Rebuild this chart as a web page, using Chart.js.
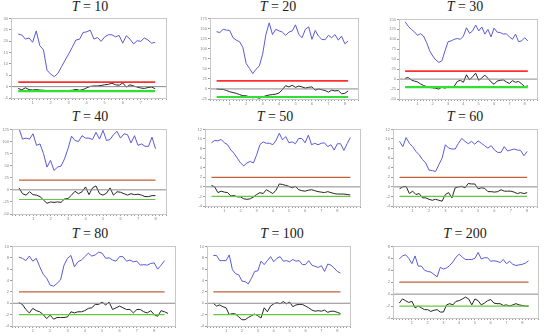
<!DOCTYPE html>
<html lang="en">
<head>
  <meta charset="utf-8">
  <title>T panels</title>
  <script src="https://cdn.jsdelivr.net/npm/chart.js@4.4.1/dist/chart.umd.min.js"></script>
  <style>
    body { margin: 0; background: #fff; }
    #wrap { position: relative; width: 550px; height: 336px; overflow: hidden; }
    .ttl {
      position: absolute; width: 100px; margin-left: -50px; text-align: center;
      font-family: "Liberation Serif", serif; font-size: 14px; color: #222;
      line-height: 14px;
    }
    canvas { position: absolute; }
  </style>
</head>
<body>
<div id="wrap"></div>

<script>
// horizon T for each panel
var Ts = [10, 20, 30, 40, 50, 60, 80, 100, 200];

// upper / lower bands
var upperBand = [2, 20, 20, 20, 2, 2, 2, 2, 2];
var lowerBand = [-2, -20, -20, -20, -2, -2, -2, -2, -2];

// y axis ranges (tick labels)
var yMin  = [-5, -25, -50, -50, -4, -4, -4, -4, -4];
var yMax  = [30, 175, 150, 125, 12, 12, 10, 10, 8];
var yStep = [5, 25, 25, 25, 2, 2, 2, 2, 2];

// blue series
var blue10 = [23.1,22.7,20.9,21.4,19.5,24.5,18.0,16.2,7.2,5.5,4.4,5.8,8.7,11.6,14.4,17.3,20.5,20.8,23.8,24.1,24.8,20.9,21.6,19.9,21.9,22.8,22.8,21.9,22.5,19.1,22.4,20.9,18.8,20.2,19.9,21.4,20.5,19.1,19.5];
var blue20 = [142,140,148,146,145,127,121,117,103,63,51,38,49,57,86,135,164,135,148,144,141,133,141,144,159,135,127,148,154,123,145,131,123,122,133,127,135,121,131,112,119];
var blue30 = [144,133,125,119,110,114,108,92,71,58,48,42,46,71,94,96,100,102,100,108,129,115,121,136,121,131,113,125,106,128,118,117,113,114,106,100,113,94,96,104,96];
var blue40 = [127,105,107,105,116,92,95,75,47,61,40,47,49,64,85,111,102,100,112,107,107,104,119,105,123,102,104,114,121,107,116,114,97,112,92,95,90,90,109,85];
var blue50 = [9.2,9.7,9.6,9.9,9.2,8.8,7.7,7.0,6.0,5.0,4.4,5.0,5.3,5.0,6.7,8.8,9.4,9.1,9.1,8.8,9.7,11.2,9.8,10.5,9.2,9.4,9.0,10.1,10.1,9.2,10.8,8.8,9.1,8.8,9.1,9.2,8.4,8.8,7.7,9.0,9.0,7.6,9.0,10.3];
var blue60 = [9.5,8.4,10.3,9.1,8.4,7.4,6.7,5.7,5.0,3.5,3.4,3.2,4.6,6.0,8.8,8.1,7.9,7.9,9.1,10.1,9.5,9.0,9.5,8.9,9.6,9.1,8.6,8.1,8.6,7.7,7.2,7.2,8.4,7.5,7.7,7.9,7.7,7.6,6.5,7.4];
var blue80 = [8.1,7.9,7.5,8.3,7.4,7.9,6.4,5.1,4.4,3.2,3.0,3.5,4.1,6.7,7.9,8.4,6.4,7.3,7.6,8.2,8.8,8.3,8.5,9.0,8.8,7.9,8.0,7.6,7.4,8.2,8.2,7.4,7.6,7.3,7.4,6.7,6.8,6.7,7.0,7.1,6.0,6.7,7.5];
var blue100 = [8.4,8.4,7.5,7.5,7.5,8.5,5.9,5.2,5.0,3.9,3.8,3.4,4.4,5.6,5.7,7.4,6.8,7.5,8.2,7.3,7.9,8.2,7.4,7.5,7.3,7.7,7.4,7.5,6.8,6.8,7.5,6.7,6.5,6.3,6.6,5.6,6.9,6.7,6.2,5.6,5.3];
var blue200 = [5.9,6.4,6.6,6.0,5.1,6.4,4.7,4.7,4.0,3.8,3.7,3.3,2.9,4.5,4.2,4.4,4.8,5.4,6.2,6.7,6.2,5.8,5.8,5.8,6.0,7.0,5.9,6.1,6.1,5.5,5.6,5.5,5.3,5.8,5.1,5.5,5.0,4.8,4.9,5.0,5.2,5.6];

// black series
var black10 = [-0.8,-1.4,-0.5,-1.3,-1.5,-1.3,-1.5,-1.6,-1.7,-1.8,-1.8,-1.8,-1.7,-1.8,-1.7,-1.6,-1.2,-1.6,-1.3,-0.5,0.1,0.3,0.3,0.5,0.8,1.0,1.5,0.8,0.6,1.6,-0.2,0.8,0.3,-0.2,-0.6,-0.8,-0.4,-0.2,-0.9];
var black20 = [0,-1,-1,-4,-7,-9,-11,-14,-17,-17,-20,-22,-21,-23,-20,-17,-15,-14,-13,-10,-2,8,5,9,4,7,5,2,4,5,-3,0,-2,-4,-8,-3,-5,-4,-12,-11,-5];
var black30 = [2,4,-2,-5,-7,-12,-16,-19,-21,-22,-23,-25,-20,-23,-18,-20,-18,-6,-3,-8,11,-2,6,15,-3,3,10,2,-7,-13,-5,-3,-2,-7,-11,-4,-8,-6,-12,-19,-17];
var black40 = [4,-8,-11,-4,-10,-11,-14,-21,-28,-25,-26,-25,-26,-19,-18,-11,-3,-8,-4,6,-10,4,8,-8,-11,-7,4,-11,-4,-5,-8,-11,-8,-10,-9,-11,-14,-14,-12,-12];
var black50 = [0.3,0,-1.2,-0.9,-1.1,-1.2,-1.9,-1.8,-2.1,-2.1,-2.5,-2.6,-2.5,-2.1,-1.6,-1.2,-1.4,-0.6,-1.0,-1.4,-0.7,0.6,0.5,0.3,0.1,-0.2,0.1,-0.6,-0.8,-0.9,-0.7,-0.6,-0.8,-1.0,-1.1,-1.2,-1.0,-1.2,-1.4,-1.5,-1.5,-1.5,-1.6,-1.7];
var black60 = [-0.4,0,0.1,-1.4,-0.9,-1.6,-1.4,-2.3,-2.3,-2.6,-2.8,-2.6,-2.8,-3.0,-1.6,-1.2,-2.3,-0.2,0,0.1,-0.2,0.7,0.6,0.6,-0.4,-0.2,-0.3,-1.0,-1.0,-1.1,-1.0,-0.6,-0.9,-0.9,-0.9,-1.1,-1.4,-1.2,-1.4,-1.2];
var black80 = [0.1,-0.2,-1.1,-1.7,-0.9,-1.3,-1.5,-2.0,-2.7,-2.1,-2.8,-2.5,-2.5,-2.5,-2.4,-1.5,-1.7,-1.5,-1.5,-1.3,-0.9,-0.8,-0.2,-0.2,0.2,-0.3,0.2,-1.1,-0.8,-0.5,-0.8,-1.1,-1.1,-1.7,-1.1,-1.1,-1.5,-1.7,-1.3,-2.0,-2.3,-1.3,-1.5,-1.8];
var black100 = [0,-0.5,-0.3,-0.6,-0.8,-2.0,-1.8,-1.9,-2.4,-2.9,-2.9,-2.5,-2.2,-1.9,-2.2,-2.6,-0.8,-1.5,-0.5,-0.1,0.1,-0.1,0.3,-0.1,0.2,-0.6,-0.3,-0.2,-0.2,-0.5,-0.8,-1.2,-1.4,-1.3,-1.4,-1.2,-1.6,-1.4,-1.4,-1.6,-1.8];
var black200 = [-1.5,-0.8,-1.1,-1.4,-1.2,-2.3,-2.0,-2.3,-2.6,-2.6,-2.9,-2.7,-2.6,-3.0,-3.0,-1.8,-1.6,-1.8,-1.2,-1.1,-0.8,-0.5,-0.8,-1.8,-0.8,-1.1,-1.8,-1.5,-1.1,-0.9,-1.5,-1.6,-1.6,-1.9,-1.8,-2.0,-1.8,-1.6,-1.8,-1.9,-2.0,-2.0];

var blues  = [blue10, blue20, blue30, blue40, blue50, blue60, blue80, blue100, blue200];
var blacks = [black10, black20, black30, black40, black50, black60, black80, black100, black200];

// plot box of every panel: left, top, right, bottom, and title centre
var boxes = [
  [11, 17, 166, 98, 90, 0],
  [210, 17, 358, 99, 278, 0],
  [399, 18, 537, 99, 465, 0],
  [12, 128, 166, 214, 90, 110],
  [205, 128, 360, 206, 275, 110],
  [393, 128, 537, 206, 465, 110],
  [12, 245, 175, 326, 90, 227],
  [207, 245, 350, 326, 282, 227],
  [393, 245, 538, 318, 465, 227]
];

var frame = {
  id: 'frame',
  afterDraw: function(chart) {
    var a = chart.chartArea, c = chart.ctx;
    c.save();
    c.strokeStyle = '#c8c8c8';
    c.lineWidth = 1;
    c.strokeRect(Math.round(a.left) + 0.5, Math.round(a.top) + 0.5,
      Math.round(a.right - a.left), Math.round(a.bottom - a.top));
    c.restore();
  }
};

var wrap = document.getElementById('wrap');
var YW = 10, XH = 9, PADT = 2, PADR = 2;

for (var p = 0; p < 9; p++) {
  var b = boxes[p];
  var title = document.createElement('div');
  title.className = 'ttl';
  title.style.left = b[4] + 'px';
  title.style.top = b[5] + 'px';
  title.innerHTML = '<i>T</i> = ' + Ts[p];
  wrap.appendChild(title);

  var cv = document.createElement('canvas');
  var w = b[2] - b[0] + YW + PADR, h = b[3] - b[1] + XH + PADT;
  cv.width = w; cv.height = h;
  cv.style.left = (b[0] - YW) + 'px';
  cv.style.top = (b[1] - PADT) + 'px';
  wrap.appendChild(cv);

  var n = blues[p].length;
  var row = Math.floor(p / 3);
  var redCol = row === 0 ? '#ff3030' : '#c0603a';
  var greenCol = row === 0 ? '#30e030' : '#66c840';
  var xLo = -2, xHi = n + 2;

  new Chart(cv, {
    type: 'line',
    data: {
      datasets: [
        { data: [{x: xLo, y: 0}, {x: xHi, y: 0}], borderColor: '#8a8a8a', borderWidth: 1 },
        { data: [{x: 0, y: upperBand[p]}, {x: n - 1, y: upperBand[p]}], borderColor: redCol, borderWidth: row === 0 ? 1.6 : 1.2 },
        { data: [{x: 0, y: lowerBand[p]}, {x: n - 1, y: lowerBand[p]}], borderColor: greenCol, borderWidth: row === 0 ? 2.2 : 1.2 },
        { data: blacks[p].map(function(v, i) { return {x: i, y: v}; }), borderColor: '#262626', borderWidth: 1 },
        { data: blues[p].map(function(v, i) { return {x: i, y: v}; }), borderColor: '#5a5ad8', borderWidth: 1 }
      ]
    },
    options: {
      responsive: false,
      animation: false,
      devicePixelRatio: 1,
      layout: { padding: { top: PADT, right: PADR, left: 0, bottom: 0 } },
      elements: { point: { radius: 0 }, line: { tension: 0 } },
      plugins: { legend: { display: false }, tooltip: { enabled: false } },
      scales: {
        x: {
          type: 'linear', min: xLo, max: xHi,
          afterBuildTicks: function(s) {
            var t = [];
            for (var i = s.min; i <= s.max; i++) t.push({value: i});
            s.ticks = t;
          },
          afterFit: function(s) { s.height = XH; },
          grid: { drawOnChartArea: false, tickLength: 2, color: '#9a9a9a' },
          border: { display: false },
          ticks: {
            autoSkip: false, maxRotation: 0, padding: 0,
            font: { size: 4 }, color: '#888',
            callback: (function(nn) {
              return function(v) {
                return (v >= 0 && v < nn && (v + 1) % 5 === 0) ? String((v + 1) / 5) : '';
              };
            })(n)
          }
        },
        y: {
          min: yMin[p], max: yMax[p],
          afterFit: function(s) { s.width = YW; },
          grid: { drawOnChartArea: false, tickLength: 2, color: '#9a9a9a' },
          border: { display: false },
          ticks: { stepSize: yStep[p], padding: 1, font: { size: 4 }, color: '#888' }
        }
      }
    },
    plugins: [frame]
  });
}
</script>
</body>
</html>
